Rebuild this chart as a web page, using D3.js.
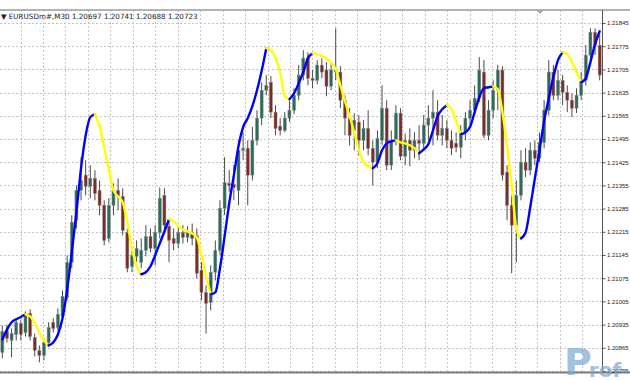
<!DOCTYPE html>
<html>
<head>
<meta charset="utf-8">
<script src="https://cdn.jsdelivr.net/npm/d3@7"></script>
<style>
body { margin: 0; background: #fff; }
svg { display: block; }
</style>
</head>
<body>
<svg id="chart"></svg>
<script>

var title = "\u25BC EURUSDm#,M30  1.20697 1.20741 1.20688 1.20723"

var openP = [1.20851,1.20917,1.20887,1.20905,1.20938,1.20911,1.20969,1.20896,1.20857,1.20842,
1.20881,1.20942,1.20926,1.20960,1.21017,1.21123,1.21250,1.21340,1.21386,1.21352,
1.21376,1.21340,1.21295,1.21195,1.21295,1.21340,1.21322,1.21213,1.21111,1.21141,
1.21123,1.21159,1.21201,1.21165,1.21213,1.21325,1.21232,1.21195,1.21180,1.21213,
1.21198,1.21213,1.21204,1.21099,1.21032,1.21002,1.21093,1.21159,1.21286,1.21361,
1.21358,1.21340,1.21461,1.21467,1.21386,1.21491,1.21558,1.21642,1.21666,1.21576,
1.21534,1.21521,1.21558,1.21582,1.21627,1.21688,1.21739,1.21678,1.21672,1.21718,
1.21703,1.21654,1.21703,1.21697,1.21612,1.21558,1.21521,1.21546,1.21491,1.21527,
1.21467,1.21425,1.21491,1.21588,1.21416,1.21491,1.21573,1.21443,1.21491,1.21461,
1.21491,1.21482,1.21537,1.21558,1.21576,1.21506,1.21527,1.21491,1.21482,1.21470,
1.21515,1.21558,1.21582,1.21618,1.21697,1.21506,1.21582,1.21642,1.21703,1.21395,
1.21295,1.21235,1.21325,1.21425,1.21401,1.21461,1.21437,1.21485,1.21582,1.21697,
1.21627,1.21672,1.21636,1.21612,1.21588,1.21627,1.21672,1.21748,1.21817,1.21778]

var highP = [1.20932,1.20935,1.20923,1.20954,1.20948,1.20975,1.20981,1.20908,1.20872,1.20893,
1.20942,1.20954,1.20984,1.21038,1.21144,1.21265,1.21355,1.21440,1.21431,1.21416,
1.21401,1.21370,1.21310,1.21316,1.21361,1.21376,1.21346,1.21225,1.21159,1.21189,
1.21195,1.21235,1.21225,1.21235,1.21349,1.21346,1.21256,1.21225,1.21235,1.21235,
1.21232,1.21240,1.21225,1.21123,1.21053,1.21114,1.21189,1.21310,1.21440,1.21401,
1.21416,1.21491,1.21515,1.21491,1.21531,1.21582,1.21666,1.21688,1.21685,1.21597,
1.21558,1.21576,1.21612,1.21648,1.21718,1.21763,1.21757,1.21703,1.21733,1.21739,
1.21727,1.21727,1.21829,1.21715,1.21627,1.21588,1.21573,1.21567,1.21552,1.21582,
1.21491,1.21521,1.21657,1.21612,1.21521,1.21597,1.21588,1.21512,1.21527,1.21515,
1.21537,1.21567,1.21597,1.21642,1.21612,1.21567,1.21552,1.21521,1.21515,1.21537,
1.21576,1.21612,1.21657,1.21742,1.21733,1.21612,1.21672,1.21718,1.21715,1.21416,
1.21325,1.21370,1.21461,1.21467,1.21485,1.21491,1.21515,1.21612,1.21733,1.21718,
1.21703,1.21688,1.21657,1.21633,1.21648,1.21697,1.21778,1.21829,1.21829,1.21808]

var lowP = [1.20833,1.20881,1.20836,1.20887,1.20887,1.20899,1.20887,1.20839,1.20821,1.20827,
1.20869,1.20911,1.20917,1.20948,1.21008,1.21105,1.21225,1.21310,1.21325,1.21316,
1.21310,1.21265,1.21174,1.21183,1.21265,1.21280,1.21204,1.21093,1.21093,1.21123,
1.21105,1.21141,1.21153,1.21114,1.21195,1.21213,1.21123,1.21159,1.21165,1.21180,
1.21183,1.21174,1.21074,1.21008,1.20908,1.20978,1.21068,1.21144,1.21265,1.21334,
1.21310,1.21295,1.21431,1.21295,1.21370,1.21476,1.21537,1.21627,1.21558,1.21506,
1.21506,1.21515,1.21546,1.21570,1.21612,1.21672,1.21657,1.21648,1.21660,1.21678,
1.21624,1.21642,1.21672,1.21588,1.21506,1.21476,1.21461,1.21446,1.21461,1.21446,
1.21355,1.21407,1.21476,1.21401,1.21401,1.21476,1.21431,1.21416,1.21413,1.21437,
1.21431,1.21461,1.21491,1.21476,1.21491,1.21476,1.21467,1.21446,1.21455,1.21437,
1.21491,1.21537,1.21567,1.21606,1.21497,1.21491,1.21558,1.21582,1.21370,1.21250,
1.21090,1.21123,1.21310,1.21380,1.21386,1.21416,1.21425,1.21467,1.21567,1.21612,
1.21612,1.21597,1.21576,1.21561,1.21573,1.21612,1.21657,1.21733,1.21748,1.21672]

var closeP = [1.20914,1.20893,1.20908,1.20942,1.20905,1.20966,1.20899,1.20857,1.20842,1.20881,
1.20926,1.20923,1.20966,1.21020,1.21123,1.21244,1.21340,1.21370,1.21352,1.21376,
1.21331,1.21295,1.21189,1.21295,1.21340,1.21322,1.21219,1.21105,1.21144,1.21165,
1.21159,1.21201,1.21165,1.21213,1.21316,1.21235,1.21189,1.21180,1.21213,1.21198,
1.21213,1.21195,1.21090,1.21032,1.20999,1.21093,1.21159,1.21286,1.21364,1.21355,
1.21349,1.21461,1.21467,1.21386,1.21491,1.21558,1.21642,1.21657,1.21576,1.21527,
1.21521,1.21558,1.21582,1.21627,1.21688,1.21739,1.21678,1.21672,1.21718,1.21697,
1.21654,1.21703,1.21697,1.21612,1.21558,1.21506,1.21552,1.21491,1.21527,1.21467,
1.21425,1.21497,1.21588,1.21416,1.21491,1.21573,1.21443,1.21491,1.21461,1.21491,
1.21482,1.21537,1.21558,1.21576,1.21506,1.21527,1.21491,1.21467,1.21470,1.21515,
1.21558,1.21582,1.21618,1.21703,1.21506,1.21582,1.21642,1.21703,1.21386,1.21295,
1.21235,1.21325,1.21425,1.21401,1.21461,1.21437,1.21485,1.21582,1.21697,1.21627,
1.21672,1.21636,1.21612,1.21588,1.21627,1.21672,1.21748,1.21817,1.21778,1.21688]

// the smoothed average drawn over the candles
var maLine = [1.20890,1.20920,1.20942,1.20951,1.20958,1.20966,1.20960,1.20939,1.20911,1.20887,
1.20872,1.20881,1.20905,1.20954,1.21041,1.21153,1.21274,1.21407,1.21506,1.21561,
1.21570,1.21534,1.21470,1.21401,1.21340,1.21322,1.21304,1.21244,1.21165,1.21111,
1.21087,1.21093,1.21111,1.21144,1.21180,1.21216,1.21253,1.21247,1.21232,1.21222,
1.21216,1.21210,1.21198,1.21144,1.21081,1.21026,1.21032,1.21105,1.21201,1.21301,
1.21386,1.21473,1.21531,1.21558,1.21594,1.21642,1.21700,1.21769,1.21763,1.21739,
1.21694,1.21624,1.21615,1.21633,1.21663,1.21697,1.21739,1.21754,1.21751,1.21745,
1.21739,1.21724,1.21706,1.21657,1.21609,1.21564,1.21515,1.21461,1.21425,1.21413,
1.21407,1.21422,1.21461,1.21482,1.21488,1.21491,1.21485,1.21482,1.21476,1.21467,
1.21452,1.21464,1.21479,1.21521,1.21564,1.21585,1.21597,1.21585,1.21546,1.21509,
1.21515,1.21531,1.21576,1.21621,1.21648,1.21651,1.21654,1.21645,1.21576,1.21473,
1.21355,1.21225,1.21195,1.21213,1.21289,1.21376,1.21461,1.21549,1.21618,1.21682,
1.21733,1.21757,1.21751,1.21727,1.21697,1.21666,1.21678,1.21727,1.21781,1.21820]

var priceTicks = [1.21845,1.21775,1.21705,1.21635,1.21565,1.21495,1.21425,1.21355,
1.21285,1.21215,1.21145,1.21075,1.21005,1.20935,1.20865,1.20795]

var screen = { width: 630, height: 380 }
var plot = { left: 0, right: 602, top: 10, bottom: 372 }

var svg = d3.select("#chart")
  .attr("width", screen.width)
  .attr("height", screen.height)
  .style("font-family", "'DejaVu Sans', sans-serif")

var n = closeP.length

var xScale = d3.scaleLinear()
  .domain([-0.5, n - 0.5])
  .range([plot.left, plot.right])

var yScale = d3.scaleLinear()
  .domain([d3.min(priceTicks), d3.max(priceTicks)])
  .range([371, 23])

var bodyW = 3

svg.append("clipPath").attr("id", "plotClip")
  .append("rect")
  .attr("x", plot.left).attr("y", plot.top)
  .attr("width", plot.right - plot.left).attr("height", plot.bottom - plot.top)

// grid
var grid = svg.append("g").attr("stroke", "#c4c4c4").attr("stroke-dasharray", "2,2")
grid.selectAll(".hg")
  .data(priceTicks)
  .enter()
  .append("line")
  .attr("x1", plot.left).attr("x2", plot.right)
  .attr("y1", function(d){ return Math.round(yScale(d)) + 0.5 })
  .attr("y2", function(d){ return Math.round(yScale(d)) + 0.5 })

var vgrid = d3.range(3.93, n, 4.85)
grid.selectAll(".vg")
  .data(vgrid)
  .enter()
  .append("line")
  .attr("x1", function(d){ return Math.round(xScale(d)) + 0.5 })
  .attr("x2", function(d){ return Math.round(xScale(d)) + 0.5 })
  .attr("y1", plot.top).attr("y2", plot.bottom)

// candles
var candles = svg.append("g").attr("clip-path", "url(#plotClip)")
var idx = d3.range(n)

candles.selectAll(".wick")
  .data(idx)
  .enter()
  .append("line")
  .attr("x1", function(i){ return xScale(i) })
  .attr("x2", function(i){ return xScale(i) })
  .attr("y1", function(i){ return yScale(highP[i]) })
  .attr("y2", function(i){ return yScale(lowP[i]) })
  .attr("stroke", "#4b4b4b")
  .attr("stroke-width", 1)

candles.selectAll(".body")
  .data(idx)
  .enter()
  .append("rect")
  .attr("x", function(i){ return xScale(i) - bodyW / 2 })
  .attr("y", function(i){ return yScale(Math.max(openP[i], closeP[i])) })
  .attr("width", bodyW)
  .attr("height", function(i){
    return Math.max(1, Math.abs(yScale(openP[i]) - yScale(closeP[i])))
  })
  .attr("fill", function(i){ return closeP[i] >= openP[i] ? "#2b6b5c" : "#7d2b25" })
  .attr("stroke", "#8a8a8a")
  .attr("stroke-width", 0.5)

// average line: split into runs, blue while rising and yellow while falling
var runs = []
var cur = null
for (var i = 1; i < n; i++) {
  var up = maLine[i] >= maLine[i - 1]
  if (!cur || cur.up !== up) {
    cur = { up: up, pts: [i - 1] }
    runs.push(cur)
  }
  cur.pts.push(i)
}

var maPath = d3.line()
  .x(function(i){ return xScale(i) })
  .y(function(i){ return yScale(maLine[i]) })
  .curve(d3.curveMonotoneX)

svg.append("g").attr("clip-path", "url(#plotClip)")
  .selectAll("path")
  .data(runs)
  .enter()
  .append("path")
  .attr("d", function(r){ return maPath(r.pts) })
  .attr("fill", "none")
  .attr("stroke", function(r){ return r.up ? "#0000ff" : "#ffff00" })
  .attr("stroke-width", 2.4)
  .attr("stroke-linecap", "round")
  .attr("stroke-linejoin", "round")

// frame
svg.append("line")
  .attr("x1", 0).attr("x2", screen.width)
  .attr("y1", plot.top).attr("y2", plot.top)
  .attr("stroke", "#9a9a9a").attr("stroke-width", 1.5)
svg.append("line")
  .attr("x1", 0).attr("x2", screen.width)
  .attr("y1", plot.bottom + 0.5).attr("y2", plot.bottom + 0.5)
  .attr("stroke", "#7a7a7a").attr("stroke-width", 2)

svg.append("path")
  .attr("d", "M536,10 L544,10 L540,14 Z")
  .attr("fill", "#a8a8a8")

// price axis
var yAxis = d3.axisRight(yScale)
  .tickValues(priceTicks)
  .tickFormat(d3.format(".5f"))
  .tickSize(3)
  .tickPadding(1.5)

var ax = svg.append("g")
  .attr("transform", "translate(" + (plot.right + 0.5) + ",0)")
  .call(yAxis)
ax.select(".domain")
  .attr("d", "M0," + plot.top + "V" + plot.bottom)
  .attr("stroke", "#555")
ax.selectAll(".tick line").attr("stroke", "#555")
ax.selectAll(".tick text")
  .attr("font-size", "6px")
  .attr("font-family", "'Liberation Sans', Arial, sans-serif")
  .attr("fill", "#222")

// watermark, one text with a big first letter
var mark = svg.append("text")
  .attr("x", 564).attr("y", 375)
  .attr("fill", "#7fa6cb").attr("opacity", 0.7)
  .attr("font-weight", "bold").attr("font-family", "'DejaVu Sans', sans-serif")
mark.append("tspan").attr("font-size", "38px").text("P")
mark.append("tspan").attr("font-size", "20px").attr("dx", -3).attr("dy", 2).text("rof-FX")

// header
svg.append("text")
  .attr("x", 1).attr("y", 19)
  .attr("font-size", "7.2px")
  .attr("fill", "#222")
  .text(title)

</script>
</body>
</html>
